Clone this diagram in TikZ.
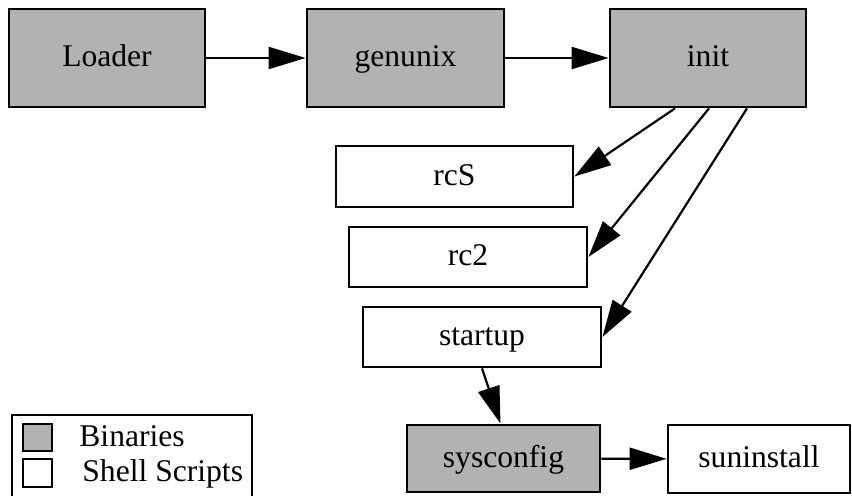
\documentclass[tikz,border=0pt]{standalone}
\usepackage{fontspec}
\setmainfont{Liberation Serif}
\usetikzlibrary{arrows.meta}

\begin{document}
\begin{tikzpicture}[x=0.5pt,y=-0.5pt,
    >={Triangle[length=18.5pt,width=11pt]},
    box/.style={draw,line width=1.4pt,inner sep=0pt,text height=0.88em,text depth=0pt,
      font=\fontsize{15.8}{19}\selectfont},
    bin node/.style={box,fill=black!30},
    script node/.style={box,fill=white},
    link/.style={->,line width=1.1pt}]
  \useasboundingbox (0,0) rectangle (852,496);

  % boot chain
  \node[bin node,minimum width=98pt,minimum height=49pt] (loader) at (107,58) {Loader};
  \node[bin node,minimum width=98.5pt,minimum height=49pt] (genunix) at (405.5,58) {genunix};
  \node[bin node,minimum width=98pt,minimum height=49pt] (init) at (708,58) {init};

  % scripts run by init
  \node[script node,minimum width=118.5pt,minimum height=30.5pt] (rcS) at (454.5,176.5) {rcS};
  \node[script node,minimum width=119pt,minimum height=30pt] (rc2) at (468,257) {rc2};
  \node[script node,minimum width=119pt,minimum height=30pt] (startup) at (482,337) {startup};

  \node[bin node,minimum width=96.5pt,minimum height=33.5pt] (sysconfig) at (503.5,458.5) {sysconfig};
  \node[script node,minimum width=91pt,minimum height=34pt] (suninstall) at (759,459) {suninstall};

  \draw[link] (loader) -- (genunix);
  \draw[link] (genunix) -- (init);
  \draw[link] ([xshift=-16.5pt]init.south) -- (rcS.east);
  \draw[link] ([xshift=0.5pt]init.south) -- (rc2.east);
  \draw[link] ([xshift=19.5pt]init.south) -- (startup.east);
  \draw[link] (startup.south) -- ([xshift=-1.5pt]sysconfig.north);
  \draw[link] (sysconfig) -- (suninstall);

  % legend
  \begin{scope}
    \clip (0,0) rectangle (852,496);
    \draw[line width=0.8pt] (12,415) rectangle (252,510);
  \end{scope}
  \draw[line width=0.8pt,fill=black!30] (23,424) rectangle (52,451);
  \draw[line width=0.8pt,fill=white] (23,459) rectangle (52,487);
  \node[anchor=base west,inner sep=0pt,font=\fontsize{15.8}{19}\selectfont] (binlabel) at (79,447) {Binaries};
  \node[anchor=base west,inner sep=0pt,font=\fontsize{15.8}{19}\selectfont] (scriptlabel) at (82,482) {Shell Scripts};
\end{tikzpicture}
\end{document}
